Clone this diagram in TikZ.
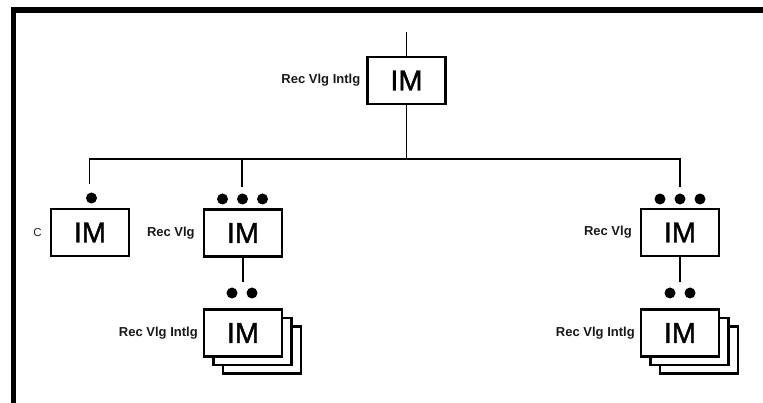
\documentclass[tikz,border=0pt]{standalone}
\usepackage{fontspec}
\setsansfont{Liberation Sans}
\newfontfamily\imfont{Liberation Sans}[FakeBold=1.5]
\begin{document}
\begin{tikzpicture}[x=1pt,y=-1pt,
  imbox/.style={draw,line width=2.2pt,fill=white,minimum width=78pt,minimum height=47pt,inner sep=0pt,font=\fontsize{29}{29}\selectfont\imfont},
  backbox/.style={draw,line width=2.2pt,fill=white,minimum width=78pt,minimum height=47pt,inner sep=0pt},
  lbl/.style={anchor=east,inner sep=0pt,font=\fontsize{13}{15}\selectfont\sffamily\bfseries,text=black!90},
  clbl/.style={anchor=east,inner sep=0pt,font=\fontsize{11.5}{13}\selectfont\sffamily,text=black!85},
  conn/.style={line width=1.8pt},
  dot/.style={circle,fill=black,minimum size=11pt,inner sep=0pt}]
\useasboundingbox (0,0) rectangle (763,403);
% frame
\draw[line width=5.5pt] (13.5,403) -- (13.5,10) -- (763,10);
% top
\node[imbox] (top) at (406.5,80.5) {IM};
\node[lbl] (toplbl) at ([xshift=-6pt]top.west) {Rec Vlg Intlg};
\coordinate (topin) at (406.5,32);
\coordinate (bus) at (406.5,159);
% level 2
\node[imbox] (cb) at (90,232.5) {IM};
\node[clbl] (cblbl) at ([xshift=-8pt]cb.west) {C};
\node[imbox] (mb) at (243,233) {IM};
\node[lbl] (mblbl) at ([xshift=-8pt]mb.west) {Rec Vlg};
\node[imbox] (rb) at (680,232.5) {IM};
\node[lbl] (rblbl) at ([xshift=-8pt]rb.west) {Rec Vlg};
\coordinate (cdrop) at (89.5,184);
\coordinate (mdrop) at (242,187);
\coordinate (rdrop) at (680,187);
% dots level 2
\node[dot] (cd1) at (91.5,198) {};
\node[dot] (md1) at (222.5,199) {};
\node[dot] (md2) at (242.5,199) {};
\node[dot] (md3) at (262.5,199) {};
\node[dot] (rd1) at (660,199) {};
\node[dot] (rd2) at (680,199) {};
\node[dot] (rd3) at (700,199) {};
% connectors
\draw[conn] (topin) -- (top.north);
\draw[conn] (top.south) -- (bus);
\draw[conn] (cdrop) |- (bus) -| (rdrop);
\draw[conn] (mdrop) -- (mdrop |- bus);
% level 3
\coordinate (mlow) at (243,282);
\coordinate (rlow) at (680,282);
\draw[conn] (mb.south) -- (mlow);
\draw[conn] (rb.south) -- (rlow);
\node[dot] (ml1) at (232,293) {};
\node[dot] (ml2) at (252,293) {};
\node[dot] (rl1) at (670,293) {};
\node[dot] (rl2) at (690,293) {};
% stacks
\node[backbox] (ms3) at (262,350) {};
\node[backbox] (ms2) at (252.5,341.5) {};
\node[imbox] (ms) at (243,333) {IM};
\node[lbl] (mslbl) at ([xshift=-5pt]ms.west) {Rec Vlg Intlg};
\node[backbox] (rs3) at (699,350) {};
\node[backbox] (rs2) at (689.5,341.5) {};
\node[imbox] (rs) at (680,333) {IM};
\node[lbl] (rslbl) at ([xshift=-5pt]rs.west) {Rec Vlg Intlg};
\end{tikzpicture}
\end{document}
